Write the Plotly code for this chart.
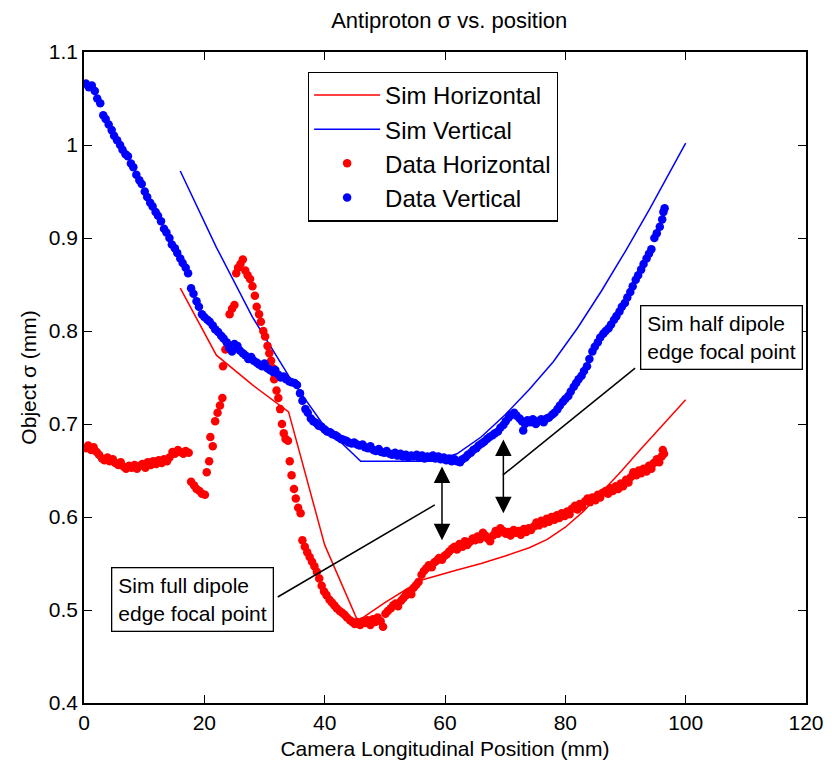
import plotly.graph_objects as go

# ---------------- data ----------------
sim_h_x = [16, 22, 28, 34, 40, 45.5, 50, 56, 62, 66, 70, 74, 77, 80, 83, 86, 89, 92, 95, 98, 100]
sim_h_y = [0.846, 0.774, 0.742, 0.713, 0.570, 0.488, 0.508, 0.532, 0.543, 0.550, 0.558,
           0.567, 0.576, 0.589, 0.606, 0.626, 0.647, 0.669, 0.690, 0.711, 0.726]

sim_v_x = [16, 22, 28, 34, 40, 44, 46, 52, 58, 62, 66, 70, 74, 78, 82, 86, 90, 94, 98, 100]
sim_v_y = [0.972, 0.890, 0.815, 0.752, 0.697, 0.672, 0.660, 0.660, 0.660, 0.668, 0.686,
           0.710, 0.737, 0.767, 0.803, 0.843, 0.886, 0.931, 0.978, 1.002]

data_h_x = [0.3, 0.7, 1.2, 1.6, 2.1, 2.5, 3.0, 3.4, 3.9, 4.3, 4.8, 5.2, 5.7, 6.1, 6.6, 7.0, 7.5, 7.9,
            8.4, 8.8, 9.3, 9.7, 10.2, 10.6, 11.1, 11.5, 12.0, 12.4, 12.9, 13.3, 13.8, 14.2, 14.7,
            15.1, 15.6, 16.0, 16.5, 16.9, 17.4, 17.8, 18.3, 18.7, 19.2, 19.6, 20.1, 20.4, 20.8,
            21.0, 21.4, 21.8, 22.2, 22.6, 23.0, 23.1, 23.5, 23.9, 24.2, 24.6, 25.0, 25.3, 25.6,
            26.0, 26.4, 26.8, 27.2, 27.6, 28.0, 28.4, 28.7, 29.1, 29.4, 29.8, 30.1, 30.5, 30.8,
            31.1, 31.4, 31.6, 32.0, 32.3, 32.6, 32.9, 33.2, 33.5, 33.9, 34.2, 34.5, 34.9, 35.2,
            35.6, 36.0, 36.3, 36.7, 37.1, 37.5, 37.9, 38.3, 38.7, 39.1, 39.5, 39.9, 40.3, 40.8,
            41.2, 41.6, 42.0, 42.5, 42.9, 43.3, 43.7, 44.2, 44.6, 45.0, 45.4, 45.9, 46.3, 46.7,
            47.1, 47.6, 48.0, 48.4, 48.8, 49.3, 49.7, 50.1, 50.5, 51.0, 51.4, 51.8, 52.2, 52.7,
            53.1, 53.5, 53.9, 54.4, 54.8, 55.2, 55.6, 56.1, 56.5, 56.9, 57.3, 57.8, 58.2, 58.6,
            59.0, 59.5, 59.9, 60.3, 60.7, 61.2, 61.6, 62.0, 62.4, 62.9, 63.3, 63.7, 64.1, 64.6,
            65.0, 65.4, 65.8, 66.3, 66.7, 67.1, 67.5, 68.0, 68.4, 68.8, 69.2, 69.7, 70.1, 70.5,
            70.9, 71.4, 71.8, 72.2, 72.6, 73.1, 73.5, 73.9, 74.3, 74.8, 75.2, 75.6, 76.0, 76.5,
            76.9, 77.3, 77.7, 78.2, 78.6, 79.0, 79.4, 79.9, 80.3, 80.7, 81.1, 81.6, 82.0, 82.4,
            82.8, 83.3, 83.7, 84.1, 84.5, 85.0, 85.4, 85.8, 86.2, 86.7, 87.1, 87.5, 87.9, 88.4,
            88.8, 89.2, 89.6, 90.1, 90.5, 90.9, 91.3, 91.8, 92.2, 92.6, 93.0, 93.5, 93.9, 94.3,
            94.7, 95.2, 95.6, 96.0, 96.2, 96.4]
data_h_y = [0.674, 0.677, 0.672, 0.675, 0.670, 0.667, 0.663, 0.661, 0.664, 0.660, 0.662, 0.658,
            0.656, 0.659, 0.654, 0.652, 0.655, 0.653, 0.656, 0.652, 0.655, 0.657, 0.653, 0.659,
            0.656, 0.660, 0.657, 0.661, 0.658, 0.662, 0.660, 0.664, 0.670, 0.668, 0.672, 0.670,
            0.668, 0.671, 0.669, 0.638, 0.634, 0.630, 0.628, 0.625, 0.624, 0.648, 0.660, 0.686,
            0.676, 0.703, 0.712, 0.720, 0.728, 0.762, 0.780, 0.786, 0.818, 0.824, 0.828, 0.862,
            0.868, 0.872, 0.877, 0.865, 0.860, 0.856, 0.848, 0.838, 0.826, 0.818, 0.810, 0.800,
            0.794, 0.784, 0.776, 0.768, 0.760, 0.748, 0.736, 0.728, 0.716, 0.700, 0.690, 0.684,
            0.682, 0.660, 0.645, 0.630, 0.620, 0.610, 0.604, 0.575, 0.568, 0.562, 0.557, 0.552,
            0.547, 0.541, 0.534, 0.526, 0.520, 0.516, 0.511, 0.508, 0.505, 0.502, 0.499, 0.497,
            0.495, 0.492, 0.489, 0.487, 0.485, 0.487, 0.484, 0.488, 0.486, 0.489, 0.484, 0.490,
            0.487, 0.492, 0.488, 0.482, 0.496, 0.499, 0.502, 0.505, 0.507, 0.504, 0.510, 0.513,
            0.516, 0.519, 0.517, 0.524, 0.527, 0.530, 0.538, 0.542, 0.545, 0.548, 0.546, 0.551,
            0.553, 0.556, 0.554, 0.558, 0.560, 0.563, 0.566, 0.568, 0.565, 0.571, 0.568, 0.574,
            0.570, 0.573, 0.577, 0.575, 0.579, 0.576, 0.583, 0.580, 0.577, 0.574, 0.580, 0.585,
            0.582, 0.588, 0.585, 0.582, 0.584, 0.580, 0.586, 0.583, 0.585, 0.581, 0.587, 0.584,
            0.588, 0.586, 0.590, 0.594, 0.591, 0.596, 0.593, 0.598, 0.595, 0.600, 0.597, 0.602,
            0.599, 0.604, 0.601, 0.606, 0.603, 0.609, 0.612, 0.608, 0.614, 0.611, 0.617, 0.620,
            0.616, 0.621, 0.618, 0.624, 0.621, 0.626, 0.628, 0.625, 0.631, 0.628, 0.633, 0.630,
            0.636, 0.633, 0.640, 0.637, 0.643, 0.648, 0.645, 0.650, 0.647, 0.652, 0.649, 0.655,
            0.652, 0.658, 0.662, 0.659, 0.665, 0.672, 0.668]

data_v_x = [0.3, 0.8, 1.3, 1.8, 2.2, 2.7, 3.2, 3.6, 4.1, 4.6, 5.0, 5.5, 6.0, 6.4, 6.9, 7.3, 7.8,
            8.2, 8.7, 9.2, 9.6, 10.1, 10.5, 11.0, 11.4, 11.9, 12.3, 12.8, 13.3, 13.7, 14.2, 14.6,
            15.1, 15.5, 16.0, 16.4, 16.9, 17.3, 17.8, 18.2, 18.7, 19.1, 19.6, 20.0, 20.5, 20.9,
            21.4, 21.8, 22.3, 22.8, 23.2, 23.7, 24.1, 24.6, 25.0, 25.5, 25.9, 26.4, 26.8, 27.3,
            27.8, 28.2, 28.7, 29.1, 29.6, 30.0, 30.5, 30.9, 31.4, 31.8, 32.3, 32.7, 33.2, 33.6,
            34.1, 34.5, 35.0, 35.4, 35.9, 36.3, 36.8, 37.2, 37.7, 38.1, 38.6, 39.0, 39.5, 40.0,
            40.4, 40.9, 41.3, 41.8, 42.2, 42.7, 43.1, 43.6, 44.0, 44.5, 44.9, 45.4, 45.8, 46.3,
            46.7, 47.2, 47.6, 48.1, 48.5, 49.0, 49.4, 49.9, 50.3, 50.8, 51.2, 51.7, 52.1, 52.6,
            53.0, 53.5, 53.9, 54.4, 54.8, 55.3, 55.7, 56.2, 56.6, 57.1, 57.5, 58.0, 58.4, 58.9,
            59.3, 59.8, 60.2, 60.7, 61.1, 61.6, 62.0, 62.5, 62.9, 63.4, 63.8, 64.3, 64.7, 65.2,
            65.6, 66.1, 66.5, 67.0, 67.4, 67.9, 68.3, 68.8, 69.2, 69.7, 70.1, 70.6, 71.0, 71.5,
            71.9, 72.4, 72.8, 73.0, 73.3, 73.7, 74.2, 74.6, 75.1, 75.5, 76.0, 76.4, 76.9, 77.3,
            77.8, 78.2, 78.7, 79.1, 79.6, 80.0, 80.5, 80.9, 81.4, 81.8, 82.2, 82.7, 83.1, 83.6,
            84.0, 84.5, 84.9, 85.4, 85.8, 86.3, 86.7, 87.2, 87.6, 88.1, 88.5, 89.0, 89.4, 89.9,
            90.3, 90.8, 91.2, 91.7, 92.1, 92.6, 93.0, 93.5, 93.9, 94.3, 94.8, 95.2, 95.7, 96.1,
            96.3, 96.5]
data_v_y = [1.066, 1.062, 1.064, 1.058, 1.050, 1.045, 1.032, 1.028, 1.022, 1.016, 1.010, 1.005,
            1.000, 0.995, 0.990, 0.988, 0.980, 0.976, 0.968, 0.962, 0.958, 0.950, 0.944, 0.938,
            0.934, 0.928, 0.924, 0.918, 0.910, 0.906, 0.900, 0.893, 0.889, 0.884, 0.878, 0.873,
            0.868, 0.862, 0.846, 0.840, 0.832, 0.826, 0.818, 0.815, 0.812, 0.810, 0.806, 0.802,
            0.799, 0.795, 0.792, 0.788, 0.782, 0.778, 0.786, 0.784, 0.779, 0.776, 0.774, 0.770,
            0.772, 0.768, 0.766, 0.764, 0.762, 0.765, 0.760, 0.758, 0.756, 0.758, 0.753, 0.750,
            0.751, 0.748, 0.746, 0.745, 0.744, 0.742, 0.733, 0.725, 0.716, 0.712, 0.706, 0.703,
            0.701, 0.698, 0.697, 0.694, 0.692, 0.691, 0.689, 0.688, 0.686, 0.684, 0.683, 0.682,
            0.680, 0.679, 0.680, 0.678, 0.677, 0.678, 0.675, 0.674, 0.676, 0.672, 0.671, 0.673,
            0.670, 0.669, 0.671, 0.668, 0.667, 0.669, 0.666, 0.668, 0.665, 0.667, 0.664, 0.666,
            0.665, 0.667, 0.664, 0.666, 0.663, 0.665, 0.664, 0.666, 0.663, 0.665, 0.662, 0.664,
            0.661, 0.663, 0.660, 0.662, 0.660, 0.659, 0.662, 0.664, 0.667, 0.669, 0.672, 0.674,
            0.677, 0.679, 0.681, 0.684, 0.686, 0.688, 0.690, 0.692, 0.696, 0.699, 0.703, 0.707,
            0.710, 0.712, 0.709, 0.706, 0.703, 0.693, 0.700, 0.704, 0.702, 0.705, 0.700, 0.703,
            0.705, 0.702, 0.706, 0.707, 0.710, 0.712, 0.716, 0.720, 0.724, 0.727, 0.730, 0.735,
            0.740, 0.744, 0.748, 0.752, 0.757, 0.762, 0.770, 0.778, 0.783, 0.788, 0.793, 0.797,
            0.800, 0.803, 0.807, 0.812, 0.816, 0.821, 0.826, 0.830, 0.836, 0.842, 0.848, 0.855,
            0.860, 0.866, 0.872, 0.878, 0.883, 0.888, 0.900, 0.905, 0.912, 0.920, 0.928, 0.932]

x_ticks = [0, 20, 40, 60, 80, 100, 120]
y_ticks = [0.4, 0.5, 0.6, 0.7, 0.8, 0.9, 1.0, 1.1]
y_tick_text = ["0.4", "0.5", "0.6", "0.7", "0.8", "0.9", "1", "1.1"]

# ---------------- figure ----------------
FONT = "Liberation Sans, Arial, Helvetica, sans-serif"
RED = "#ff0000"
BLUE = "#0000ff"

fig = go.Figure()
fig.add_trace(go.Scatter(x=sim_h_x, y=sim_h_y, mode="lines", name="Sim Horizontal",
                         line=dict(color=RED, width=1.5)))
fig.add_trace(go.Scatter(x=sim_v_x, y=sim_v_y, mode="lines", name="Sim Vertical",
                         line=dict(color=BLUE, width=1.5)))
fig.add_trace(go.Scatter(x=data_h_x, y=data_h_y, mode="markers", name="Data Horizontal",
                         marker=dict(color=RED, size=8.5, line=dict(width=0))))
fig.add_trace(go.Scatter(x=data_v_x, y=data_v_y, mode="markers", name="Data Vertical",
                         marker=dict(color=BLUE, size=8.5, line=dict(width=0))))

# pointer lines
fig.add_shape(type="line", xref="x", yref="y", x0=32.2, y0=0.514, x1=58.3, y1=0.613,
              line=dict(color="black", width=1.5))
fig.add_shape(type="line", xref="x", yref="y", x0=69.6, y0=0.645, x1=91.6, y1=0.760,
              line=dict(color="black", width=1.5))

annotations = [
    dict(x=59.5, y=0.575, ax=59.5, ay=0.656, xref="x", yref="y", axref="x", ayref="y",
         text="", showarrow=True, arrowhead=2, startarrowhead=2, arrowside="end+start",
         arrowsize=2.2, startarrowsize=2.2, arrowwidth=1.5, arrowcolor="black"),
    dict(x=69.7, y=0.604, ax=69.7, ay=0.685, xref="x", yref="y", axref="x", ayref="y",
         text="", showarrow=True, arrowhead=2, startarrowhead=2, arrowside="end+start",
         arrowsize=2.2, startarrowsize=2.2, arrowwidth=1.5, arrowcolor="black"),
    dict(x=17.95, y=0.511, xref="x", yref="y", text="Sim full dipole<br>edge focal point",
         showarrow=False, align="left", bgcolor="white", bordercolor="black", borderwidth=1.3,
         borderpad=6, font=dict(family=FONT, size=21, color="black")),
    dict(x=105.9, y=0.7925, xref="x", yref="y", text="Sim half dipole<br>edge focal point",
         showarrow=False, align="left", bgcolor="white", bordercolor="black", borderwidth=1.3,
         borderpad=6, font=dict(family=FONT, size=21, color="black")),
]

fig.update_layout(
    width=832, height=764,
    margin=dict(l=84, r=26, t=52, b=61, autoexpand=False),
    paper_bgcolor="white", plot_bgcolor="white",
    font=dict(family=FONT, size=21, color="black"),
    title=dict(text="Antiproton σ vs. position", x=0.54, xanchor="center",
               y=0.974, yanchor="middle", font=dict(family=FONT, size=22, color="black")),
    showlegend=True,
    legend=dict(x=0.31, y=0.97, xanchor="left", yanchor="top",
                bgcolor="white", bordercolor="black", borderwidth=1.3,
                font=dict(family=FONT, size=24, color="black"),
                itemwidth=66, tracegroupgap=0),
    annotations=annotations,
)
fig.update_xaxes(range=[0, 120], tickvals=x_ticks, ticks="inside", ticklen=8, tickwidth=1,
                 tickcolor="black", showline=True, linecolor="black", linewidth=1.5,
                 mirror="ticks", showgrid=False, zeroline=False, automargin=False,
                 title=dict(text="Camera Longitudinal Position (mm)", standoff=8,
                            font=dict(family=FONT, size=21)))
fig.update_yaxes(range=[0.4, 1.1], tickvals=y_ticks, ticktext=y_tick_text, ticks="inside",
                 ticklen=8, tickwidth=1, tickcolor="black", showline=True, linecolor="black",
                 linewidth=1.5, mirror="ticks", showgrid=False, zeroline=False, automargin=False,
                 title=dict(text="Object σ (mm)", standoff=6,
                            font=dict(family=FONT, size=21)))

fig.write_html("out.html")
